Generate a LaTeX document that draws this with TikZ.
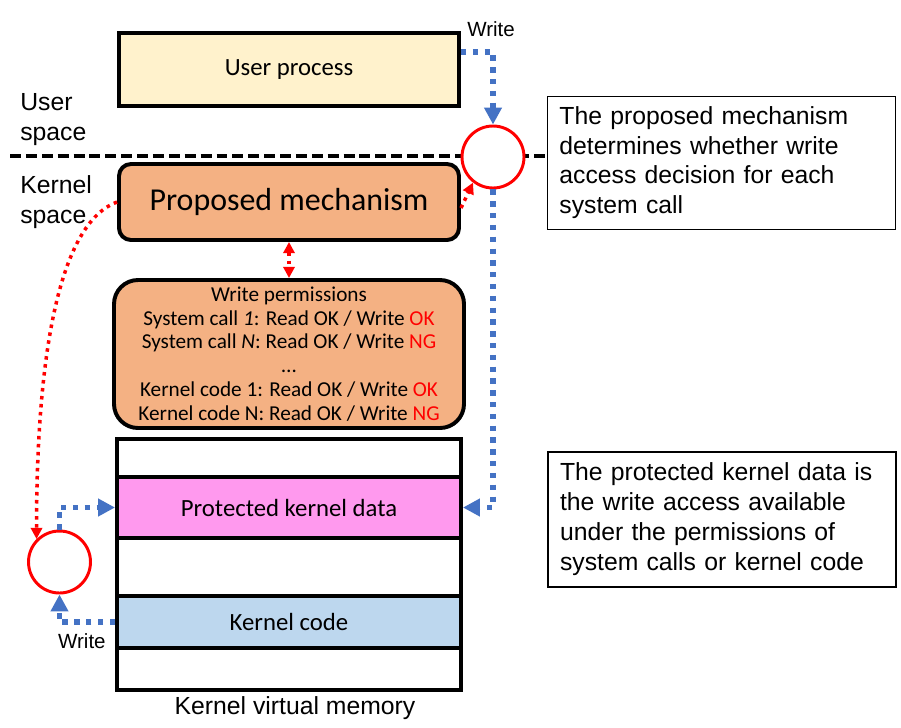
\documentclass[tikz,border=0pt]{standalone}
\usepackage{fontspec}
\setmainfont{Liberation Sans}
\newfontfamily\calibri{Carlito}
\usetikzlibrary{arrows.meta, positioning}

\definecolor{userfill}{HTML}{FFF2CC}
\definecolor{mechfill}{HTML}{F4B183}
\definecolor{datafill}{HTML}{FF99EE}
\definecolor{codefill}{HTML}{BDD7EE}
\definecolor{writeblue}{HTML}{4472C4}
\definecolor{checkred}{HTML}{FF0000}

\tikzstyle{userbox} = [rectangle, 
minimum width=8.5cm, 
minimum height=1.825cm,
text centered, 
draw=black, 
line width=2.8pt,
fill=userfill,
font=\calibri\fontsize{17.6}{21}\selectfont]
\tikzstyle{mechbox} = [rectangle, rounded corners=0.3cm, 
minimum width=8.5cm, 
minimum height=1.9cm,
text centered, 
draw=black, 
line width=2.8pt,
fill=mechfill,
font=\calibri\fontsize{22.7}{27}\selectfont]
\tikzstyle{permbox} = [rectangle, rounded corners=0.6cm, 
minimum width=8.75cm, 
minimum height=3.7cm,
align=center, 
draw=black, 
line width=2.8pt,
fill=mechfill,
font=\calibri\fontsize{15.1}{17}\selectfont]
\tikzstyle{memrow} = [rectangle, 
minimum width=8.6cm, 
inner sep=0pt,
text centered, 
draw=black, 
line width=2.8pt,
fill=white,
font=\calibri\fontsize{17.6}{21}\selectfont]
\tikzstyle{gate} = [circle, 
minimum size=1.55cm, 
inner sep=0pt,
draw=checkred, 
line width=2.1pt,
fill=white]
\tikzstyle{note} = [rectangle, 
text width=8.1cm, 
minimum height=3.325cm,
inner xsep=0.3cm, 
inner ysep=0.15cm,
align=left, 
draw=black, 
line width=0.8pt,
font=\fontsize{17.6}{21.3}\selectfont]
\tikzstyle{side} = [inner sep=0pt, anchor=west, align=left,
font=\fontsize{17.6}{20.8}\selectfont]
\tikzstyle{wlabel} = [inner sep=0pt, font=\fontsize{14.6}{17}\selectfont]
\tikzstyle{writearrow} = [draw=writeblue, line width=3.8pt, 
dash pattern=on 3.8pt off 4.6pt, 
-{Triangle[length=12pt, width=12pt]}]
\tikzstyle{checkarrow} = [draw=checkred, line width=2.5pt, 
dash pattern=on 2.5pt off 3.2pt, 
-{Triangle[length=8pt, width=8pt]}]

\begin{document}
\begin{tikzpicture}[node distance=1.5cm]

\useasboundingbox (0,0) rectangle (22.525,-18.175);

\node (upro) [userbox] at (7.225,-1.74) {User process};
\node (mech) [mechbox, below of=upro, yshift=-1.81cm] {Proposed mechanism};
\node (perms) [permbox, below of=mech, yshift=-2.3cm] 
      {Write permissions\\
       System call \textit{1}: Read OK / Write \textcolor{checkred}{OK}\\
       System call \textit{N}: Read OK / Write \textcolor{checkred}{NG}\\
       …\\
       Kernel code 1: Read OK / Write \textcolor{checkred}{OK}\\
       Kernel code N: Read OK / Write \textcolor{checkred}{NG}};

% kernel virtual memory, top to bottom
\node (row1) [memrow, minimum height=0.95cm, below of=perms, yshift=-1.1cm] {};
\node (pdata) [memrow, minimum height=1.525cm, fill=datafill, below of=row1, yshift=0.2625cm] 
      {Protected kernel data};
\node (row3) [memrow, minimum height=1.45cm, below of=pdata, yshift=0.0125cm] {};
\node (kcode) [memrow, minimum height=1.3cm, fill=codefill, below of=row3, yshift=0.125cm] 
      {Kernel code};
\node (row5) [memrow, minimum height=1.05cm, below of=kcode, yshift=0.325cm] {};
\node (kvm) [side, anchor=center, below of=row5, yshift=0.525cm, xshift=0.15cm] 
      {Kernel virtual memory};

\node (userlbl) [side] at (0.5,-2.99) {User\\space};
\node (kernlbl) [side] at (0.5,-5.05) {Kernel\\space};

\draw [black, line width=2.8pt, dash pattern=on 7.8pt off 3.5pt] (0.25,-3.9) -- (13.625,-3.9);

\node (gate1) [gate] at (12.325,-3.925) {};
\node (gate2) [gate] at (1.4875,-14.05) {};

\node (wtop) [wlabel, above of=gate1, yshift=1.7cm, xshift=-0.05cm] {Write};
\node (wlow) [wlabel, below of=gate2, yshift=-0.475cm, xshift=0.56cm] {Write};

\node (note1) [note, right of=gate1, xshift=4.21cm, yshift=-0.14cm] 
      {The proposed mechanism\\determines whether write\\access decision for each\\system call};
\node (note2) [note, right of=pdata, xshift=9.325cm, yshift=-0.3cm, minimum height=3.375cm] 
      {The protected kernel data is\\the write access available\\under the permissions of\\system calls or kernel code};

\draw [writearrow] ([yshift=0.44cm]upro.east) -| (gate1.north);
\draw [writearrow] (gate1.south) |- (pdata.east);
\draw [writearrow] (kcode.west) -| (gate2.south);
\draw [writearrow] (gate2.north) |- (pdata.west);

\draw [checkarrow] ([yshift=-0.15cm]mech.east) -- (gate1.232);
\draw [checkarrow, {Triangle[length=8pt, width=8pt]}-{Triangle[length=8pt, width=8pt]}] 
      (mech.south) -- (perms.north);
\draw [checkarrow] (mech.west) .. controls +(-1.425,-0.525) and +(0,4.7) .. (gate2.135);

\end{tikzpicture}
\end{document}
